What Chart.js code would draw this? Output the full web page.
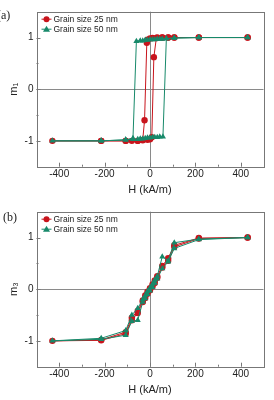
<!DOCTYPE html>
<html>
<head>
<meta charset="utf-8">
<script src="https://cdn.jsdelivr.net/npm/chart.js@4.4.1/dist/chart.umd.min.js"></script>
<style>
  body { margin: 0; background: #fff; }
  .panel { position: absolute; left: 0; width: 274px; height: 200px; }
  .tag { position: absolute; font-family: "Liberation Serif", serif; font-size: 12px; color: #222; }
</style>
</head>
<body>
<div class="panel" style="top:0"><canvas id="chartA" width="274" height="200"></canvas></div>
<div class="panel" style="top:200px"><canvas id="chartB" width="274" height="200"></canvas></div>
<div class="tag" style="left:-3px; top:8px">(a)</div>
<div class="tag" style="left:3px; top:210px">(b)</div>
<script>
// tick labels
const xTicks = [-400, -200, 0, 200, 400];
const yTicks = [-1, 0, 1];
const seriesNames = ['Grain size 25 nm', 'Grain size 50 nm'];

// (a) m1 loop, descending branch then ascending branch
const hA25 = [430, 215, 107, 80, 54, 32, 11, 0, -11, -14, -24, -32, -54, -80, -107, -215, -430,
  -215, -107, -54, -32, -11, 0, 8, 17, 28, 54, 80, 107, 215, 430];
const mA25 = [1, 1, 1, 1, 1, 1, 0.99, 0.98, 0.96, 0.9, -0.6, -0.98, -1, -1, -1, -1, -1,
  -1, -1, -1, -0.99, -0.98, -0.97, -0.93, 0.62, 0.99, 1, 1, 1, 1, 1];
const hA50 = [430, 215, 107, 72, 54, 43, 32, 21, 11, 0, -11, -21, -32, -43, -60, -75, -107, -215, -430,
  -215, -107, -75, -54, -43, -32, -21, -11, 0, 11, 21, 32, 43, 57, 72, 107, 215, 430];
const mA50 = [1, 1, 0.99, 0.98, 0.97, 0.97, 0.97, 0.96, 0.96, 0.96, 0.95, 0.95, 0.94, 0.94, 0.93, -0.95, -0.98, -1, -1,
  -1, -0.98, -0.97, -0.97, -0.96, -0.96, -0.95, -0.94, -0.94, -0.93, -0.93, -0.93, -0.92, -0.92, 0.98, 0.99, 1, 1];

// (b) m3 curve
const hB = [430, 215, 107, 80, 54, 32, 21, 11, 0, -11, -21, -32, -54, -80, -107, -215, -430,
  -215, -107, -80, -54, -32, -21, -11, 0, 11, 21, 32, 54, 80, 107, 215, 430];
const mB25 = [1, 0.99, 0.85, 0.6, 0.45, 0.25, 0.17, 0.09, 0.02, -0.05, -0.12, -0.22, -0.42, -0.55, -0.83, -0.98, -1,
  -0.99, -0.86, -0.6, -0.46, -0.25, -0.17, -0.09, -0.02, 0.05, 0.12, 0.22, 0.42, 0.55, 0.82, 0.98, 1];
const mB50 = [1, 0.97, 0.9, 0.55, 0.63, 0.25, 0.18, 0.1, 0.03, -0.04, -0.12, -0.2, -0.37, -0.5, -0.8, -0.95, -1,
  -0.97, -0.89, -0.62, -0.6, -0.25, -0.18, -0.1, -0.03, 0.04, 0.12, 0.2, 0.4, 0.53, 0.79, 0.96, 1];

const RED = '#c8141c';
const GREEN = '#17896a';
const FONT = '"Liberation Sans", Arial, sans-serif';

function pts(h, m) { return h.map((v, i) => ({ x: v, y: m[i] })); }

// frame, zero lines, inward ticks, legend
const decor = {
  id: 'decor',
  beforeDatasetsDraw(chart) {
    const { ctx, chartArea: a, scales: { x, y } } = chart;
    ctx.save();
    ctx.strokeStyle = '#8a8a8a';
    ctx.lineWidth = 1;
    ctx.beginPath();
    const x0 = Math.round(x.getPixelForValue(0)) + 0.5;
    const y0 = Math.round(y.getPixelForValue(0)) + 0.5;
    ctx.moveTo(x0, a.top); ctx.lineTo(x0, a.bottom);
    ctx.moveTo(a.left, y0); ctx.lineTo(a.right, y0);
    ctx.stroke();
    ctx.restore();
  },
  afterDatasetsDraw(chart) {
    const { ctx, chartArea: a, scales: { x, y } } = chart;
    ctx.save();
    ctx.strokeStyle = '#777';
    ctx.lineWidth = 1;
    ctx.strokeRect(Math.round(a.left) + 0.5, Math.round(a.top) + 0.5,
      Math.round(a.right - a.left), Math.round(a.bottom - a.top));
    ctx.beginPath();
    for (let v = -400; v <= 400; v += 100) {
      const px = Math.round(x.getPixelForValue(v)) + 0.5;
      const len = v % 200 === 0 ? 4 : 2;
      ctx.moveTo(px, a.bottom); ctx.lineTo(px, a.bottom - len);
    }
    for (let v = -1; v <= 1; v += 0.5) {
      const py = Math.round(y.getPixelForValue(v)) + 0.5;
      const len = Number.isInteger(v) ? 4 : 2;
      ctx.moveTo(a.left, py); ctx.lineTo(a.left + len, py);
    }
    ctx.stroke();

    // legend
    ctx.font = '8.5px ' + FONT;
    ctx.textBaseline = 'middle';
    chart.data.datasets.forEach((ds, i) => {
      const ly = a.top + 7.5 + i * 10;
      const lx = a.left + 10;
      ctx.strokeStyle = ds.borderColor;
      ctx.beginPath();
      ctx.moveTo(lx - 5, ly); ctx.lineTo(lx + 5, ly);
      ctx.stroke();
      ctx.fillStyle = ds.backgroundColor;
      ctx.beginPath();
      if (ds.pointStyle === 'triangle') {
        ctx.moveTo(lx, ly - 3.5); ctx.lineTo(lx + 3.5, ly + 2.5); ctx.lineTo(lx - 3.5, ly + 2.5);
      } else {
        ctx.arc(lx, ly, 3, 0, Math.PI * 2);
      }
      ctx.fill();
      ctx.fillStyle = '#222';
      ctx.fillText(ds.label, lx + 7, ly + 0.5);
    });
    ctx.restore();
  }
};

function makeChart(id, d25, d50, yTitle) {
  return new Chart(document.getElementById(id), {
    type: 'scatter',
    data: {
      datasets: [
        { label: seriesNames[0], data: d25, showLine: true, borderColor: RED, backgroundColor: RED, order: 1,
          borderWidth: 1, pointStyle: 'circle', pointRadius: 3.2, pointBorderWidth: 0 },
        { label: seriesNames[1], data: d50, showLine: true, borderColor: GREEN, backgroundColor: GREEN, order: 0,
          borderWidth: 1, pointStyle: 'triangle', pointRadius: 3.5, pointBorderWidth: 0 }
      ]
    },
    options: {
      responsive: false,
      animation: false,
      layout: { padding: { top: 11.7, right: 10.5, left: 0, bottom: 0 } },
      plugins: { legend: { display: false }, tooltip: { enabled: false } },
      scales: {
        x: {
          min: -500, max: 500,
          afterBuildTicks: s => { s.ticks = xTicks.map(v => ({ value: v })); },
          afterFit: s => { s.height = 33.3; },
          grid: { display: false, drawTicks: false },
          border: { display: false },
          ticks: { color: '#222', font: { family: FONT, size: 10 }, padding: 2, maxRotation: 0 },
          title: { display: true, text: 'H (kA/m)', color: '#222', font: { family: FONT, size: 11 }, padding: { top: 0, bottom: 3 } }
        },
        y: {
          min: -1.5, max: 1.5,
          afterBuildTicks: s => { s.ticks = yTicks.map(v => ({ value: v })); },
          afterFit: s => { s.width = 36.5; },
          grid: { display: false, drawTicks: false },
          border: { display: false },
          ticks: { color: '#222', font: { family: FONT, size: 10 }, padding: 3 },
          title: { display: true, text: yTitle, color: '#222', font: { family: FONT, size: 11 }, padding: { top: 7, bottom: 0 } }
        }
      }
    },
    plugins: [decor]
  });
}

makeChart('chartA', pts(hA25, mA25), pts(hA50, mA50), 'm₁');
makeChart('chartB', pts(hB, mB25), pts(hB, mB50), 'm₃');
</script>
</body>
</html>
